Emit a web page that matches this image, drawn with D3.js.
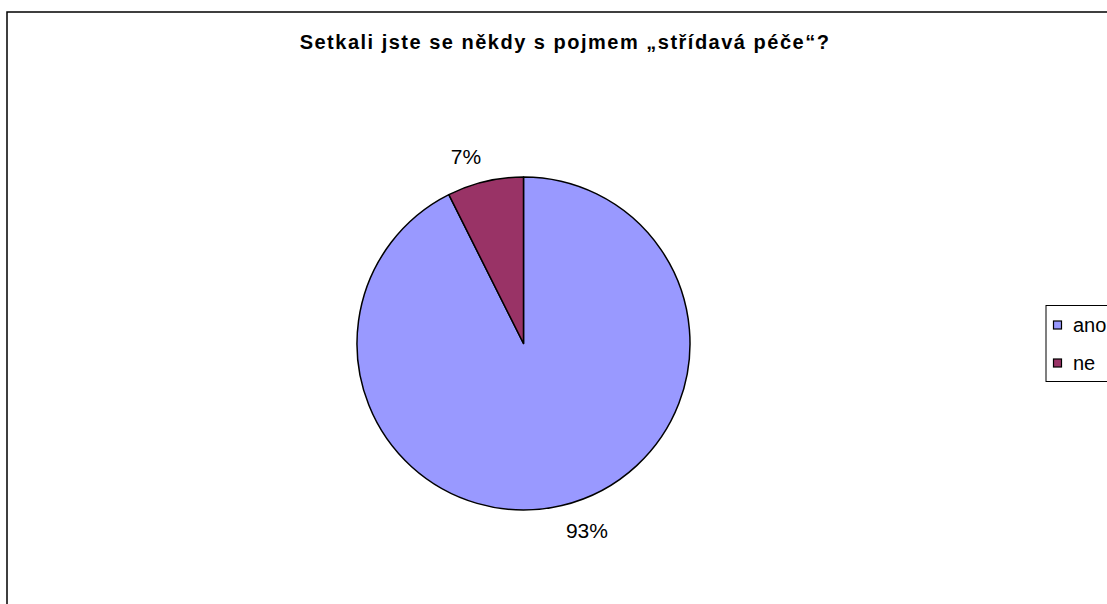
<!DOCTYPE html>
<html><head><meta charset="utf-8">
<script src="https://cdn.jsdelivr.net/npm/d3@7"></script>
<style>body{margin:0;background:#fff}svg{display:block}</style>
</head><body>
<svg id="c" width="1107" height="604"></svg>
<script>
const categories = ["ano", "ne"];
const values = [92.6, 7.4];
const labels = ["93%", "7%"];
const colors = ["#9999FF", "#993366"];
const title = "Setkali jste se někdy s pojmem „střídavá péče“?";

const svg = d3.select("#c");
const font = "Arial, 'Liberation Sans', sans-serif";
svg.append("rect").attr("x", 7).attr("y", 12).attr("width", 1200).attr("height", 700)
  .attr("fill", "#fff").attr("stroke", "#000").attr("stroke-width", 1.5);

svg.append("text").attr("x", 565).attr("y", 49).attr("text-anchor", "middle")
  .attr("font-family", font).attr("font-weight", "bold")
  .attr("font-size", 20).attr("letter-spacing", 1.5).text(title);

const cx = 523.5, cy = 343.5, r = 166.5;
const data = categories.map((c, i) => ({c, v: values[i], l: labels[i], col: colors[i]}));
const pie = d3.pie().value(d => d.v).sort(null);
const arcs = pie(data);
const arc = d3.arc().innerRadius(0).outerRadius(r);
const g = svg.append("g").attr("transform", `translate(${cx},${cy})`);
g.selectAll("path").data(arcs).join("path").attr("d", arc)
  .attr("fill", d => d.data.col).attr("stroke", "#000").attr("stroke-width", 1.5)
  .attr("stroke-linejoin", "round");

const labelArc = d3.arc().innerRadius(184).outerRadius(184);
g.selectAll("text.lab").data(arcs).join("text").attr("class", "lab")
  .each(function(d) {
    const [x, y] = labelArc.centroid(d);
    d3.select(this).attr("x", x).attr("y", y)
      .attr("text-anchor", x < 0 ? "end" : "start")
      .attr("dy", y < 0 ? "0" : "0.72em");
  })
  .attr("font-family", font)
  .attr("font-size", 21).text(d => d.data.l);

// legend
const lg = svg.append("g");
lg.append("rect").attr("x", 1046).attr("y", 305.5).attr("width", 100).attr("height", 76)
  .attr("fill", "#fff").attr("stroke", "#000").attr("stroke-width", 1);
const ly = d3.scalePoint().domain(categories).range([325, 363]);
categories.forEach((c, i) => {
  lg.append("rect").attr("x", 1053.5).attr("y", ly(c) - 4).attr("width", 8).attr("height", 8)
    .attr("fill", colors[i]).attr("stroke", "#000").attr("stroke-width", 1.2);
  lg.append("text").attr("x", 1073).attr("y", ly(c)).attr("dy", "0.36em")
    .attr("font-family", font).attr("font-size", 20).text(c);
});
</script>
</body></html>
